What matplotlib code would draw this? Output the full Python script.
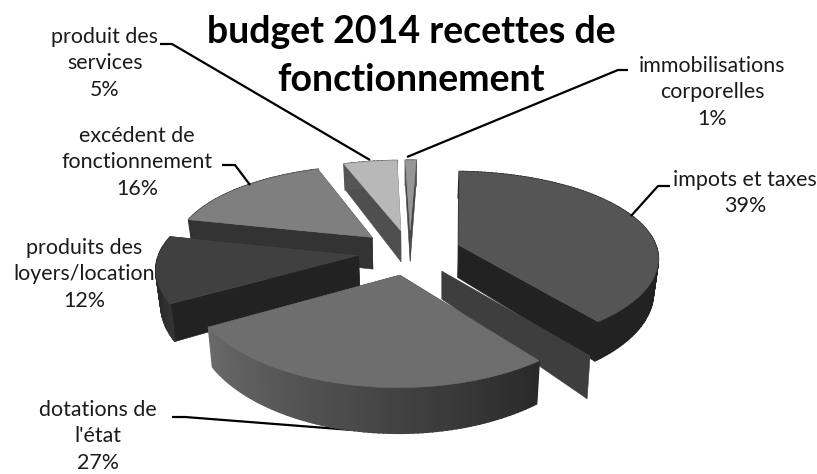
import numpy as np
import matplotlib
matplotlib.use('Agg')
import matplotlib.pyplot as plt
from matplotlib.patches import Polygon

categories = ['impots et taxes', 'dotations de\nl\'état', 'produits des\nloyers/location',
              'excédent de\nfonctionnement', 'produit des\nservices', 'immobilisations\ncorporelles']
values = [39, 27, 12, 16, 5, 1]

# grey shades per slice: top face, cut face, outer wall (start, end of the sweep)
top_colors = ['#555555', '#6e6e6e', '#404040', '#7f7f7f', '#b8b8b8', '#969696']
cut_colors = ['#222222', '#3e3e3e', '#222222', '#333333', '#4f4f4f', '#444444']
wall_from = [0x22, 0x2a, 0x33, 0x33, 0x55, 0x55]
wall_to = [0x22, 0x6a, 0x22, 0x33, 0x55, 0x55]

# label text position (centre x, first row y)
label_pos = [(745, 180), (98, 410), (84, 248), (137, 136), (105, 37), (712, 66)]
leaders = [[(670, 186), (658, 186), (631, 216)],
           [(172, 417), (185, 417), (352, 430)],
           [],
           [(222, 165), (235, 165), (250, 185)],
           [(160, 44), (172, 44), (370, 160)],
           [(628, 70), (618, 70), (407, 157)]]

RX, RY = 199, 87      # radii of the pie on screen
VX, PY = 410, 252     # vanishing x, centre y
KX, KY = 0.13, 0.155  # perspective strength
EXPLODE = 0.26
DEPTH = 33
START = np.radians(2)


def project(x, y):
    sx = 1 / (1 + KX * y)
    s = 1 / (1 + KY * y)
    return VX + RX * x * sx, PY - RY * y * s, s


def drop(px, py, s):
    # bottom of the wall under a top point
    return VX + (px - VX) * 0.98, py + DEPTH * s ** 1.5


def poly(ax, pts, color, z, lw=0.4):
    ax.add_patch(Polygon(pts, closed=True, facecolor=color, edgecolor=color, lw=lw, zorder=z))


fig = plt.figure(figsize=(8.17, 4.74), dpi=100)
ax = fig.add_axes([0, 0, 1, 1])
ax.set_xlim(0, 817)
ax.set_ylim(474, 0)
ax.axis('off')

edges = START + np.cumsum([0] + values) / sum(values) * 2 * np.pi
draw_order = [5, 4, 3, 2, 0, 1]

for z, i in enumerate(draw_order):
    t0, t1 = edges[i], edges[i + 1]
    mid = (t0 + t1) / 2
    ox, oy = EXPLODE * np.sin(mid), EXPLODE * np.cos(mid)
    thetas = np.linspace(t0, t1, max(int(values[i] * 3), 6))
    rim = [project(ox + np.sin(t), oy + np.cos(t)) for t in thetas]
    apex = project(ox, oy)
    base = 10 * z

    # the stray back wall that shows beside the big front slice
    if i == 1:
        a = np.array(apex[:2]) + (42, -4)
        b = np.array(rim[0][:2]) + (51, -5)
        sliver = [a, b, (b[0] - 3, b[1] + 43), (a[0], a[1] + 28)]
        poly(ax, sliver, cut_colors[1], base)

    # cut faces
    for r in (rim[0], rim[-1]):
        poly(ax, [apex[:2], r[:2], drop(*r), drop(*apex)], cut_colors[i], base + 1)

    # outer wall, small quads so the shading can run along the sweep
    n = len(rim) - 1
    for j in range(n):
        g = wall_from[i] + (wall_to[i] - wall_from[i]) * j / max(n - 1, 1)
        c = '#%02x%02x%02x' % (int(g), int(g), int(g))
        poly(ax, [rim[j][:2], rim[j + 1][:2], drop(*rim[j + 1]), drop(*rim[j])], c, base + 2, lw=1.2)

    poly(ax, [apex[:2]] + [r[:2] for r in rim], top_colors[i], base + 3)

# leader lines and labels
for i, name in enumerate(categories):
    if leaders[i]:
        xs, ys = zip(*leaders[i])
        ax.plot(xs, ys, color='black', lw=1.6, zorder=5 if i == 1 else 100, solid_capstyle='butt')
    x, y = label_pos[i]
    ax.text(x, y - 10, f'{name}\n{values[i]}%', ha='center', va='top', fontsize=15.4,
            family='Lato', color='#1a1a1a', linespacing=1.4, zorder=101)

ax.text(411, 15, 'budget 2014 recettes de\nfonctionnement', ha='center', va='top', fontsize=27,
        family='Lato', fontweight='bold', color='black', linespacing=1.5, zorder=102)

fig.savefig('out.png', dpi=100)
